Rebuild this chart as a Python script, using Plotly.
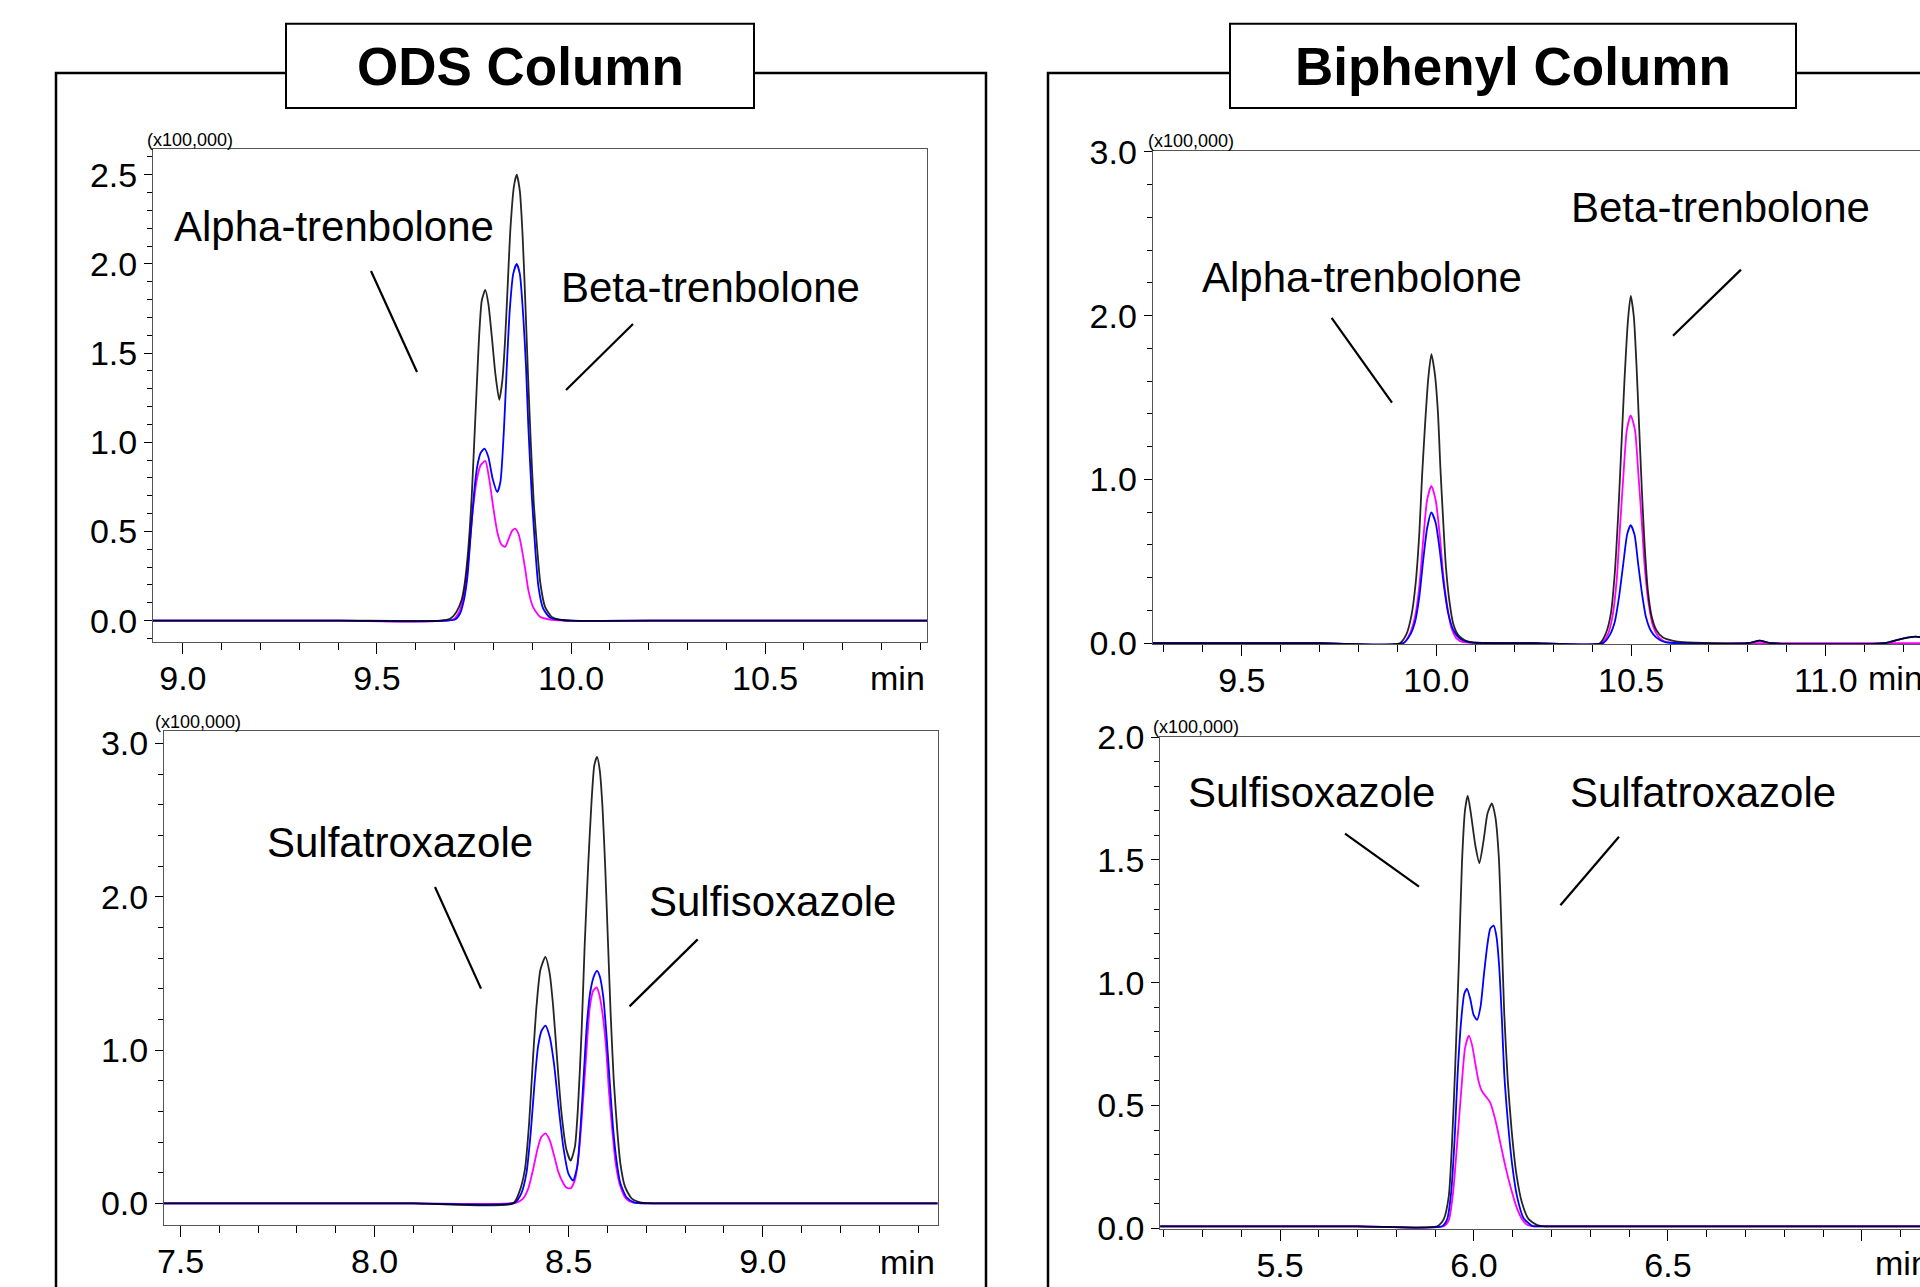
import plotly.graph_objects as go

W, H = 1920, 1287

# ---------------- DATA ----------------
# ODS column, trenbolone (top-left)
ods_tren_t_black = [8.92, 9.40, 9.662, 9.688, 9.705, 9.718, 9.726, 9.735, 9.744, 9.750, 9.757, 9.763, 9.770, 9.779, 9.787, 9.796, 9.805, 9.815, 9.823, 9.830, 9.837, 9.844, 9.853, 9.860, 9.868, 9.875, 9.882, 9.889, 9.896, 9.904, 9.913, 9.921, 9.933, 9.950, 9.971, 10.00, 10.30, 10.92]
ods_tren_black   = [0.0, 0.0, 0.0, 0.01, 0.05, 0.115, 0.208, 0.395, 0.693, 0.973, 1.309, 1.589, 1.795, 1.854, 1.776, 1.589, 1.384, 1.238, 1.347, 1.571, 1.888, 2.205, 2.438, 2.500, 2.410, 2.168, 1.795, 1.384, 1.011, 0.656, 0.395, 0.208, 0.077, 0.021, 0.006, 0.0, 0.0, 0.0]
ods_tren_t_blue  = [8.92, 9.40, 9.701, 9.714, 9.724, 9.733, 9.741, 9.750, 9.758, 9.767, 9.777, 9.787, 9.798, 9.810, 9.818, 9.827, 9.834, 9.842, 9.851, 9.860, 9.868, 9.877, 9.884, 9.890, 9.899, 9.908, 9.916, 9.928, 9.945, 9.967, 10.00, 10.30, 10.92]
ods_tren_blue    = [0.0, 0.0, 0.006, 0.04, 0.115, 0.245, 0.469, 0.712, 0.861, 0.940, 0.964, 0.917, 0.796, 0.721, 0.777, 1.067, 1.403, 1.738, 1.944, 2.000, 1.944, 1.701, 1.421, 1.085, 0.693, 0.395, 0.189, 0.068, 0.018, 0.006, 0.0, 0.0, 0.0]
ods_tren_t_mag   = [8.92, 9.40, 9.696, 9.712, 9.724, 9.736, 9.746, 9.757, 9.767, 9.779, 9.789, 9.800, 9.810, 9.820, 9.830, 9.838, 9.848, 9.856, 9.865, 9.873, 9.882, 9.890, 9.902, 9.920, 9.945, 9.98, 10.30, 10.92]
ods_tren_mag     = [0.0, 0.0, 0.006, 0.05, 0.152, 0.357, 0.600, 0.787, 0.871, 0.895, 0.796, 0.628, 0.497, 0.428, 0.413, 0.451, 0.503, 0.516, 0.484, 0.404, 0.287, 0.171, 0.077, 0.021, 0.006, 0.0, 0.0, 0.0]

# Biphenyl column, trenbolone (top-right)
bph_tren_t_black = [9.27, 9.70, 9.906, 9.923, 9.936, 9.947, 9.956, 9.963, 9.971, 9.979, 9.987, 9.996, 10.004, 10.010, 10.017, 10.024, 10.033, 10.043, 10.056, 10.073, 10.094, 10.25, 10.420, 10.435, 10.448, 10.458, 10.467, 10.475, 10.483, 10.492, 10.499, 10.507, 10.514, 10.521, 10.528, 10.535, 10.543, 10.553, 10.565, 10.582, 10.608, 10.634, 10.80, 10.83, 10.86, 11.15, 11.20, 11.23, 11.25]
bph_tren_black   = [0.0, 0.0, 0.0, 0.055, 0.171, 0.375, 0.670, 1.016, 1.342, 1.617, 1.765, 1.643, 1.403, 1.077, 0.762, 0.477, 0.263, 0.120, 0.049, 0.018, 0.005, 0.0, 0.0, 0.059, 0.181, 0.425, 0.792, 1.199, 1.607, 1.973, 2.120, 1.994, 1.688, 1.301, 0.914, 0.588, 0.324, 0.161, 0.079, 0.034, 0.014, 0.006, 0.0, 0.015, 0.0, 0.0, 0.03, 0.04, 0.035]
bph_tren_t_blue  = [9.27, 9.70, 9.915, 9.932, 9.945, 9.956, 9.966, 9.976, 9.987, 9.998, 10.009, 10.019, 10.030, 10.043, 10.060, 10.082, 10.25, 10.428, 10.445, 10.458, 10.469, 10.480, 10.490, 10.499, 10.509, 10.518, 10.528, 10.538, 10.550, 10.565, 10.587, 10.80, 10.83, 10.86, 11.15, 11.20, 11.23, 11.25]
bph_tren_blue    = [0.0, 0.0, 0.0, 0.049, 0.130, 0.283, 0.507, 0.700, 0.798, 0.735, 0.558, 0.354, 0.185, 0.083, 0.028, 0.006, 0.0, 0.0, 0.049, 0.130, 0.283, 0.487, 0.666, 0.721, 0.660, 0.487, 0.303, 0.161, 0.079, 0.034, 0.006, 0.0, 0.015, 0.0, 0.0, 0.03, 0.04, 0.035]
bph_tren_t_mag   = [9.27, 9.70, 9.915, 9.932, 9.945, 9.956, 9.966, 9.976, 9.987, 9.998, 10.009, 10.017, 10.028, 10.039, 10.052, 10.069, 10.25, 10.424, 10.441, 10.452, 10.463, 10.471, 10.480, 10.489, 10.499, 10.510, 10.518, 10.527, 10.535, 10.545, 10.557, 10.572, 10.591, 10.80, 11.25]
bph_tren_mag     = [0.0, 0.0, 0.0, 0.059, 0.161, 0.344, 0.629, 0.874, 0.961, 0.874, 0.650, 0.426, 0.222, 0.090, 0.028, 0.006, 0.0, 0.0, 0.059, 0.161, 0.385, 0.690, 1.016, 1.301, 1.391, 1.301, 1.057, 0.751, 0.466, 0.242, 0.100, 0.034, 0.006, 0.0, 0.0]

# ODS column, sulfonamides (bottom-left)
ods_sulf_t_black = [7.45, 8.10, 8.357, 8.374, 8.387, 8.398, 8.408, 8.417, 8.427, 8.440, 8.451, 8.460, 8.470, 8.481, 8.494, 8.505, 8.516, 8.524, 8.533, 8.541, 8.550, 8.559, 8.566, 8.573, 8.580, 8.587, 8.594, 8.601, 8.608, 8.616, 8.625, 8.633, 8.645, 8.662, 8.687, 8.75, 9.00, 9.46]
ods_sulf_black   = [0.0, 0.0, 0.0, 0.083, 0.218, 0.522, 0.946, 1.283, 1.522, 1.608, 1.500, 1.283, 0.946, 0.598, 0.352, 0.279, 0.370, 0.631, 1.109, 1.674, 2.195, 2.630, 2.858, 2.912, 2.825, 2.586, 2.195, 1.717, 1.239, 0.804, 0.479, 0.261, 0.109, 0.033, 0.005, 0.0, 0.0, 0.0]
ods_sulf_t_blue  = [7.45, 8.10, 8.361, 8.378, 8.391, 8.402, 8.412, 8.421, 8.430, 8.440, 8.451, 8.462, 8.473, 8.486, 8.499, 8.511, 8.522, 8.530, 8.539, 8.547, 8.556, 8.566, 8.573, 8.580, 8.589, 8.597, 8.606, 8.614, 8.623, 8.633, 8.649, 8.670, 8.75, 9.00, 9.46]
ods_sulf_blue    = [0.0, 0.0, 0.005, 0.066, 0.196, 0.457, 0.783, 1.022, 1.126, 1.159, 1.087, 0.913, 0.652, 0.370, 0.196, 0.148, 0.240, 0.478, 0.848, 1.174, 1.387, 1.489, 1.517, 1.482, 1.348, 1.109, 0.783, 0.500, 0.283, 0.131, 0.040, 0.005, 0.0, 0.0, 0.0]
ods_sulf_t_mag   = [7.45, 8.10, 8.365, 8.383, 8.396, 8.408, 8.419, 8.429, 8.440, 8.451, 8.462, 8.473, 8.486, 8.494, 8.505, 8.516, 8.527, 8.537, 8.546, 8.554, 8.563, 8.572, 8.578, 8.587, 8.596, 8.604, 8.613, 8.621, 8.632, 8.647, 8.666, 8.75, 9.00, 9.46]
ods_sulf_mag     = [0.0, 0.0, 0.005, 0.033, 0.098, 0.218, 0.348, 0.431, 0.457, 0.413, 0.316, 0.207, 0.131, 0.103, 0.098, 0.153, 0.348, 0.674, 1.000, 1.272, 1.387, 1.409, 1.370, 1.239, 1.022, 0.718, 0.457, 0.261, 0.120, 0.033, 0.005, 0.0, 0.0, 0.0]

# Biphenyl column, sulfonamides (bottom-right)
bph_sulf_t_black = [5.19, 5.70, 5.905, 5.922, 5.935, 5.943, 5.952, 5.961, 5.969, 5.977, 5.984, 5.992, 6.004, 6.014, 6.025, 6.035, 6.046, 6.055, 6.064, 6.071, 6.078, 6.087, 6.097, 6.109, 6.124, 6.141, 6.163, 6.184, 6.25, 6.50, 7.16]
bph_sulf_black   = [0.008, 0.008, 0.008, 0.037, 0.130, 0.333, 0.673, 1.080, 1.487, 1.704, 1.762, 1.690, 1.555, 1.487, 1.582, 1.690, 1.731, 1.677, 1.514, 1.215, 0.876, 0.605, 0.401, 0.225, 0.103, 0.037, 0.013, 0.008, 0.008, 0.008, 0.008]
bph_sulf_t_blue  = [5.19, 5.70, 5.918, 5.931, 5.941, 5.950, 5.958, 5.967, 5.975, 5.982, 5.991, 5.999, 6.008, 6.017, 6.025, 6.034, 6.042, 6.051, 6.058, 6.065, 6.072, 6.078, 6.087, 6.098, 6.111, 6.128, 6.150, 6.171, 6.25, 6.50, 7.16]
bph_sulf_blue    = [0.008, 0.008, 0.008, 0.037, 0.143, 0.360, 0.632, 0.846, 0.955, 0.975, 0.930, 0.869, 0.849, 0.903, 1.023, 1.148, 1.220, 1.233, 1.188, 1.066, 0.849, 0.632, 0.442, 0.265, 0.130, 0.041, 0.010, 0.008, 0.008, 0.008, 0.008]
bph_sulf_t_mag   = [5.19, 5.70, 5.922, 5.935, 5.946, 5.956, 5.967, 5.977, 5.987, 5.995, 6.004, 6.012, 6.021, 6.032, 6.042, 6.055, 6.068, 6.081, 6.094, 6.109, 6.124, 6.138, 6.154, 6.25, 6.50, 7.16]
bph_sulf_mag     = [0.008, 0.008, 0.008, 0.032, 0.143, 0.333, 0.557, 0.734, 0.785, 0.747, 0.666, 0.598, 0.557, 0.534, 0.512, 0.442, 0.347, 0.252, 0.170, 0.089, 0.037, 0.013, 0.008, 0.008, 0.008, 0.008]

# Tick labels
tl_xticks = [9.0, 9.5, 10.0, 10.5]
tr_xticks = [9.5, 10.0, 10.5, 11.0]
bl_xticks = [7.5, 8.0, 8.5, 9.0]
br_xticks = [5.5, 6.0, 6.5, 7.0]
br_xtick_text = ["5.5", "6.0", "6.5", ""]

titles = ["ODS Column", "Biphenyl Column"]
labels_tl = ["Alpha-trenbolone", "Beta-trenbolone"]
labels_tr = ["Alpha-trenbolone", "Beta-trenbolone"]
labels_bl = ["Sulfatroxazole", "Sulfisoxazole"]
labels_br = ["Sulfisoxazole", "Sulfatroxazole"]
scale_label = "(x100,000)"

# ---------------- FIGURE ----------------
FONT = "Liberation Sans, Arial, Helvetica, sans-serif"
BLACK, BLUE, MAG = "#000000", "#0000ff", "#ff00ff"

def X(px):
    return px / W

def Y(py):
    return 1 - py / H

fig = go.Figure()

panels = [
    ("x", "y", [(ods_tren_t_mag, ods_tren_mag, MAG, 1.0), (ods_tren_t_blue, ods_tren_blue, BLUE, 1.0), (ods_tren_t_black, ods_tren_black, BLACK, 0.85)]),
    ("x2", "y2", [(bph_tren_t_mag, bph_tren_mag, MAG, 1.0), (bph_tren_t_blue, bph_tren_blue, BLUE, 1.0), (bph_tren_t_black, bph_tren_black, BLACK, 0.85)]),
    ("x3", "y3", [(ods_sulf_t_mag, ods_sulf_mag, MAG, 1.0), (ods_sulf_t_blue, ods_sulf_blue, BLUE, 1.0), (ods_sulf_t_black, ods_sulf_black, BLACK, 0.85)]),
    ("x4", "y4", [(bph_sulf_t_mag, bph_sulf_mag, MAG, 1.0), (bph_sulf_t_blue, bph_sulf_blue, BLUE, 1.0), (bph_sulf_t_black, bph_sulf_black, BLACK, 0.85)]),
]
for xa, ya, series in panels:
    for t, v, c, op in series:
        fig.add_trace(go.Scatter(x=t, y=v, xaxis=xa, yaxis=ya, mode="lines", opacity=op,
                                 line=dict(color=c, width=1.8, shape="spline", smoothing=0.6),
                                 showlegend=False, hoverinfo="skip"))

tickfont = dict(family=FONT, size=34, color="black")

def xax(domain, rng, tickvals, ticktext=None, anchor="y"):
    return dict(domain=domain, range=rng, anchor=anchor, tickmode="array", tickvals=tickvals,
                ticktext=ticktext if ticktext else ["%.1f" % v for v in tickvals],
                showline=True, linecolor="#555555", linewidth=1, mirror=True,
                ticks="outside", ticklen=11, tickwidth=1.3, tickcolor="black", ticklabelstandoff=-5,
                minor=dict(dtick=0.1, tick0=0, ticks="outside", ticklen=7, tickwidth=1, tickcolor="black", showgrid=False),
                showgrid=False, zeroline=False, tickfont=tickfont, fixedrange=True, automargin=False)

def yax(domain, rng, dtick, minor, anchor, mirror):
    return dict(domain=domain, range=rng, anchor=anchor, dtick=dtick, tick0=0, tickformat=".1f",
                showline=True, linecolor="#555555", linewidth=1, mirror=mirror,
                ticks="outside", ticklen=8, tickwidth=1.3, tickcolor="black",
                minor=dict(dtick=minor, tick0=0, ticks="outside", ticklen=5, tickwidth=1, tickcolor="black", showgrid=False),
                showgrid=False, zeroline=False, tickfont=tickfont, fixedrange=True, automargin=False)

fig.update_layout(
    width=W, height=H, margin=dict(l=0, r=0, t=0, b=0, pad=0, autoexpand=False),
    paper_bgcolor="white", plot_bgcolor="white", showlegend=False,
    font=dict(family=FONT, color="black"),
    xaxis=xax([X(153), X(927)], [8.923, 10.917], tl_xticks, anchor="y"),
    yaxis=yax([Y(642), Y(148.7)], [-0.12, 2.646], 0.5, 0.1, "x", True),
    xaxis2=xax([X(1152.6), 1.0], [9.271, 11.242], tr_xticks, anchor="y2"),
    yaxis2=yax([Y(644), Y(151)], [-0.005, 3.005], 1.0, 0.2, "x2", False),
    xaxis3=xax([X(164), X(937.5)], [7.4575, 9.45], bl_xticks, anchor="y3"),
    yaxis3=yax([Y(1224.7), Y(730.7)], [-0.139, 3.083], 1.0, 0.2, "x3", True),
    xaxis4=xax([X(1160.2), 1.0], [5.191, 7.150], br_xticks, br_xtick_text, anchor="y4"),
    yaxis4=yax([Y(1229), Y(736.5)], [-0.003, 2.003], 0.5, 0.1, "x4", False),
)

shapes = []
# outer frames
shapes.append(dict(type="path", xref="paper", yref="paper",
                   path=f"M {X(56)},{Y(1400)} L {X(56)},{Y(73)} L {X(986)},{Y(73)} L {X(986)},{Y(1400)}",
                   line=dict(color="black", width=2.5)))
shapes.append(dict(type="path", xref="paper", yref="paper",
                   path=f"M {X(1048)},{Y(1400)} L {X(1048)},{Y(73)} L {X(2000)},{Y(73)}",
                   line=dict(color="black", width=2.5)))
# title boxes
for x0, x1 in [(286, 754), (1230, 1796)]:
    shapes.append(dict(type="rect", xref="paper", yref="paper", x0=X(x0), x1=X(x1), y0=Y(108), y1=Y(23.7),
                       fillcolor="white", line=dict(color="black", width=2)))
# leader lines
leaders = [((371, 271), (417, 372)), ((633, 324), (566, 390)),
           ((1331.6, 317.9), (1392, 402.7)), ((1741, 269.6), (1673, 335.7)),
           ((435, 887), (481, 988.6)), ((697.7, 939.4), (629.5, 1006.4)),
           ((1345, 833.7), (1419, 886.7)), ((1619, 836.8), (1560.4, 905.3))]
for (a, b) in leaders:
    shapes.append(dict(type="line", xref="paper", yref="paper", x0=X(a[0]), y0=Y(a[1]), x1=X(b[0]), y1=Y(b[1]),
                       line=dict(color="black", width=2.2)))
fig.update_layout(shapes=shapes)

ann = []
def txt(text, x, y, size, xanchor="left", bold=False):
    ann.append(dict(text=f"<b>{text}</b>" if bold else text, x=X(x), y=Y(y), xref="paper", yref="paper",
                    xanchor=xanchor, yanchor="middle", showarrow=False,
                    font=dict(family=FONT, size=size, color="black")))

txt(titles[0], 520, 66, 53, "center", True)
txt(titles[1], 1513, 66, 53, "center", True)

txt(labels_tl[0], 172, 226, 42)
txt(labels_tl[1], 559, 287, 42)
txt(labels_tr[0], 1199.5, 277, 42)
txt(labels_tr[1], 1569, 207, 42)
txt(labels_bl[0], 264.7, 842, 42)
txt(labels_bl[1], 647, 902, 42)
txt(labels_br[0], 1186, 792, 42)
txt(labels_br[1], 1567.5, 792, 42)

txt(scale_label, 145, 140, 18)
txt(scale_label, 1145.5, 141, 18)
txt(scale_label, 153, 722, 18)
txt(scale_label, 1151, 727, 18)

txt("min", 927, 678, 34, "right")
txt("min", 1866, 678, 34, "left")
txt("min", 937, 1262, 34, "right")
txt("min", 1873, 1263, 34, "left")

fig.update_layout(annotations=ann)

fig.write_html("out.html", config={"displayModeBar": False},
               post_script="document.body.style.margin='0px';document.body.style.overflow='hidden';")
